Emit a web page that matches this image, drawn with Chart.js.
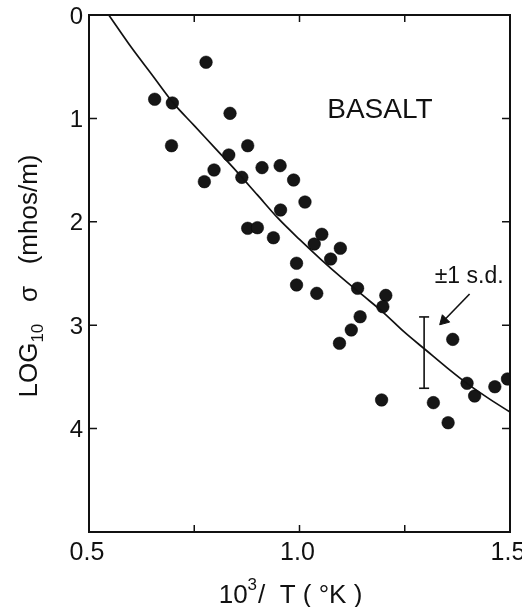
<!DOCTYPE html>
<html>
<head>
<meta charset="utf-8">
<script src="https://cdn.jsdelivr.net/npm/chart.js@4/dist/chart.umd.min.js"></script>
<style>
  html, body { margin: 0; padding: 0; background: #fff; }
  #wrap { width: 522px; height: 607px; position: relative; }
</style>
</head>
<body>
<div id="wrap"><canvas id="chart"></canvas></div>
<script>
// basalt measurements: 10^3/T against log10 sigma
const basaltX = [0.778, 0.656, 0.698, 0.835, 0.696, 0.877, 0.832, 0.797, 0.774, 0.863,
                 0.911, 0.954, 0.986, 1.013, 0.955, 0.877, 0.900, 0.938, 1.035, 1.053,
                 1.097, 1.074, 0.993, 0.993, 1.041, 1.138, 1.205, 1.198, 1.144, 1.123,
                 1.095, 1.195, 1.318, 1.353, 1.364, 1.398, 1.416, 1.464, 1.494];
const basaltY = [0.457, 0.815, 0.851, 0.951, 1.264, 1.264, 1.354, 1.499, 1.612, 1.570,
                 1.476, 1.457, 1.596, 1.809, 1.886, 2.063, 2.057, 2.154, 2.215, 2.121,
                 2.256, 2.360, 2.401, 2.611, 2.692, 2.643, 2.712, 2.821, 2.918, 3.046,
                 3.175, 3.723, 3.749, 3.943, 3.137, 3.562, 3.685, 3.595, 3.520];

// fitted curve
const fitX = [0.547, 0.60, 0.65, 0.70, 0.75, 0.80, 0.85, 0.90, 0.95, 1.00,
              1.05, 1.10, 1.15, 1.20, 1.25, 1.30, 1.35, 1.40, 1.45, 1.50];
const fitY = [0.00, 0.31, 0.58, 0.85, 1.07, 1.29, 1.51, 1.74, 1.97, 2.17,
              2.36, 2.54, 2.71, 2.88, 3.07, 3.24, 3.41, 3.57, 3.71, 3.84];

// +-1 s.d. bar and its pointer
const sdX = [1.296, 1.296];
const sdY = [2.92, 3.61];
const arrowX = [1.404, 1.343];
const arrowY = [2.698, 2.955];

const xTickValues = [0.5, 0.75, 1.0, 1.25, 1.5];
const xTickLabels = ["0.5", "", "1.0", "", "1.5"];
const yTickValues = [0, 1, 2, 3, 4, 5];
const yTickLabels = ["0", "1", "2", "3", "4", ""];

const FONT = "'Liberation Sans', Arial, sans-serif";
const INK = "#111";

function pts(xs, ys) {
  return xs.map((x, i) => ({x: x, y: ys[i]}));
}

// frame, inward ticks, labels and notes, all placed through the scales
const framePlugin = {
  id: "frame",
  afterDatasetsDraw(chart) {
    const ctx = chart.ctx;
    const a = chart.chartArea;
    const xs = chart.scales.x, ys = chart.scales.y;
    ctx.save();
    ctx.strokeStyle = INK;
    ctx.lineWidth = 2;
    ctx.strokeRect(a.left, a.top, a.right - a.left, a.bottom - a.top);

    ctx.lineWidth = 1.5;
    ctx.beginPath();
    xTickValues.forEach(v => {
      const px = xs.getPixelForValue(v);
      if (v <= xs.min || v >= xs.max) return;
      ctx.moveTo(px, a.bottom); ctx.lineTo(px, a.bottom - 7);
      ctx.moveTo(px, a.top); ctx.lineTo(px, a.top + 7);
    });
    yTickValues.forEach(v => {
      const py = ys.getPixelForValue(v);
      if (v <= ys.min || v >= ys.max) return;
      ctx.moveTo(a.left, py); ctx.lineTo(a.left + 8, py);
      ctx.moveTo(a.right, py); ctx.lineTo(a.right - 8, py);
    });
    ctx.stroke();

    ctx.fillStyle = INK;
    ctx.font = "24px " + FONT;
    ctx.textAlign = "right";
    ctx.textBaseline = "middle";
    yTickValues.forEach((v, i) => {
      ctx.fillText(yTickLabels[i], a.left - 6, ys.getPixelForValue(v) + 2);
    });
    ctx.font = "25px " + FONT;
    ctx.textAlign = "center";
    ctx.textBaseline = "top";
    xTickValues.forEach((v, i) => {
      ctx.fillText(xTickLabels[i], xs.getPixelForValue(v) - 2, a.bottom + 9);
    });

    // x title: 10^3 / T (°K)
    ctx.textAlign = "left";
    ctx.textBaseline = "alphabetic";
    const big = "26px " + FONT, small = "17px " + FONT;
    ctx.font = big;
    const w1 = ctx.measureText("10").width;
    const w3 = ctx.measureText("/  T ( °K )").width;
    ctx.font = small;
    const w2 = ctx.measureText("3").width;
    let tx = 290 - (w1 + w2 + w3) / 2;
    const ty = 603;
    ctx.font = big;  ctx.fillText("10", tx, ty); tx += w1;
    ctx.font = small; ctx.fillText("3", tx, ty - 13); tx += w2;
    ctx.font = big;  ctx.fillText("/  T ( °K )", tx + 1, ty);

    // y title, rotated: LOG10 σ (mhos/m)
    ctx.save();
    ctx.translate(37, 276);
    ctx.rotate(-Math.PI / 2);
    const parts = [["LOG", big, 0], ["10", small, 6], ["   σ   ", big, 0], ["(mhos/m)", big, 0]];
    let total = 0;
    parts.forEach(p => { ctx.font = p[1]; total += ctx.measureText(p[0]).width; });
    let ox = -total / 2;
    parts.forEach(p => {
      ctx.font = p[1];
      ctx.fillText(p[0], ox, p[2]);
      ox += ctx.measureText(p[0]).width;
    });
    ctx.restore();

    // notes
    ctx.textAlign = "center";
    ctx.textBaseline = "middle";
    ctx.font = "28px " + FONT;
    ctx.fillText("BASALT", xs.getPixelForValue(1.191), ys.getPixelForValue(0.92));
    ctx.font = "23px " + FONT;
    ctx.fillText("±1 s.d.", xs.getPixelForValue(1.403), ys.getPixelForValue(2.53));
    ctx.restore();
  }
};

new Chart(document.getElementById("chart"), {
  type: "scatter",
  data: {
    datasets: [
      {
        type: "line",
        data: pts(fitX, fitY),
        borderColor: INK,
        borderWidth: 1.7,
        pointRadius: 0,
        cubicInterpolationMode: "monotone",
        fill: false
      },
      {
        data: pts(basaltX, basaltY),
        backgroundColor: "#161616",
        borderColor: "#000",
        borderWidth: 0.5,
        pointRadius: 6.3
      },
      {
        type: "line",
        data: pts(sdX, sdY),
        borderColor: INK,
        borderWidth: 1.6,
        pointStyle: "line",
        pointRadius: 5,
        pointBorderWidth: 1.6,
        pointBorderColor: INK
      },
      {
        type: "line",
        data: pts(arrowX, arrowY),
        borderColor: INK,
        borderWidth: 1.6,
        pointStyle: "triangle",
        pointRadius: [0, 6],
        pointRotation: 225,
        pointBackgroundColor: INK,
        pointBorderColor: INK,
        pointBorderWidth: 1
      }
    ]
  },
  options: {
    responsive: true,
    maintainAspectRatio: false,
    animation: false,
    events: [],
    layout: { padding: { left: 89, right: 12, top: 15, bottom: 75 } },
    plugins: { legend: { display: false }, tooltip: { enabled: false } },
    scales: {
      x: { type: "linear", min: 0.5, max: 1.5, display: false },
      y: { type: "linear", min: 0, max: 5, reverse: true, display: false }
    }
  },
  plugins: [framePlugin]
});
</script>
</body>
</html>
